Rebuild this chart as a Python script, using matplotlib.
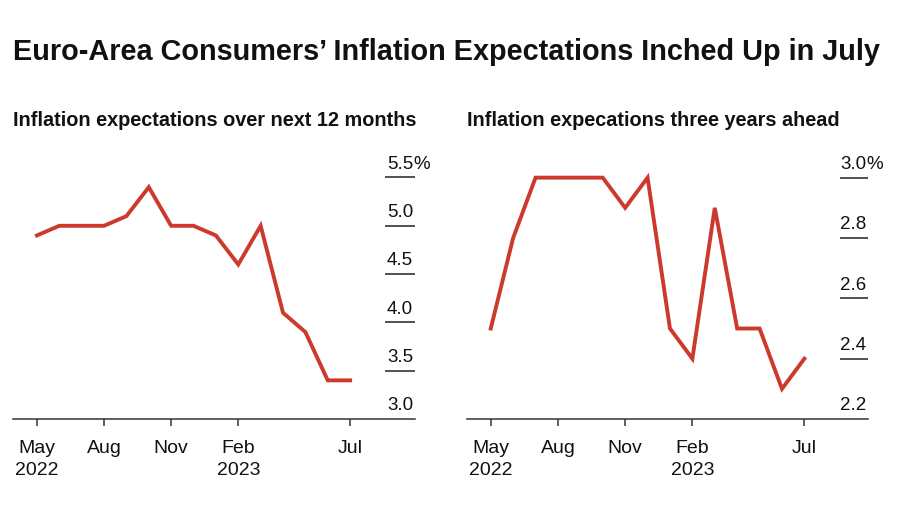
import numpy as np
import pandas as pd
import matplotlib
matplotlib.use("Agg")
import matplotlib.pyplot as plt

plt.rcParams["font.family"] = ["Liberation Sans", "DejaVu Sans"]

# ── data ─────────────────────────────────────────────────────────
months = pd.date_range("2022-05-01", periods=15, freq="MS")
next_12m = [4.9, 5.0, 5.0, 5.0, 5.1, 5.4, 5.0, 5.0, 4.9, 4.6, 5.0, 4.1, 3.9, 3.4, 3.4]
three_yr = [2.5, 2.8, 3.0, 3.0, 3.0, 3.0, 2.9, 3.0, 2.5, 2.4, 2.9, 2.5, 2.5, 2.3, 2.4]

left_yticks  = [3.0, 3.5, 4.0, 4.5, 5.0, 5.5]
right_yticks = [2.2, 2.4, 2.6, 2.8, 3.0]
tick_months  = ["2022-05", "2022-08", "2022-11", "2023-02", "2023-07"]
tick_labels  = ["May\n2022", "Aug", "Nov", "Feb\n2023", "Jul"]

TITLE    = "Euro-Area Consumers\u2019 Inflation Expectations Inched Up in July"
SUB_L    = "Inflation expectations over next 12 months"
SUB_R    = "Inflation expecations three years ahead"

RED  = "#CC3A2D"
INK  = "#111111"

W, H = 900, 510
fig = plt.figure(figsize=(9, 5.1), dpi=100, facecolor="white")

def px(x0, y0, x1, y1):
    # pixel box -> figure fraction [left, bottom, width, height]
    return [x0 / W, 1 - y1 / H, (x1 - x0) / W, (y1 - y0) / H]

x = np.arange(len(months))
tick_pos = [months.get_loc(pd.Timestamp(m)) for m in tick_months]

def panel(rect, vals, yticks, ylim, xlim, tickfrac):
    ax = fig.add_axes(rect)
    ax.plot(x, vals, color=RED, lw=2.8, solid_joinstyle="miter")
    ax.set_xlim(*xlim)
    ax.set_ylim(*ylim)
    for s in ["top", "right", "left"]:
        ax.spines[s].set_visible(False)
    ax.spines["bottom"].set_color("#333333")
    ax.spines["bottom"].set_linewidth(1.1)
    ax.set_yticks([])
    ax.set_xticks(tick_pos)
    ax.set_xticklabels(tick_labels, fontsize=14, color=INK, linespacing=1.4)
    ax.tick_params(axis="x", length=5, width=1.1, color="#333333", pad=9.5)
    ytr = ax.get_yaxis_transform()
    for i, v in enumerate(yticks):
        if i > 0:
            ax.hlines(v, tickfrac, 1.0, transform=ytr, color="#222222", lw=1.1)
        lab = f"{v:.1f}"
        ax.annotate(lab, xy=(0.995, v), xycoords=ytr, xytext=(0, 7),
                    textcoords="offset points", ha="right", va="baseline",
                    fontsize=13.5, color=INK)
        if i == len(yticks) - 1:
            ax.annotate("%", xy=(0.995, v), xycoords=ytr, xytext=(0, 7),
                        textcoords="offset points", ha="left", va="baseline",
                        fontsize=13.5, color=INK)
    return ax

panel(px(13, 150, 415, 420), next_12m, left_yticks, (3.0, 5.795),
      (-1.07, 16.9), 0.925)
panel(px(467, 150, 868, 420), three_yr, right_yticks, (2.2, 3.095),
      (-1.06, 16.84), 0.93)

fig.text(13 / W, 1 - 60 / H, TITLE, fontsize=20.8, fontweight="bold",
         color=INK, ha="left", va="baseline")
fig.text(13 / W, 1 - 126 / H, SUB_L, fontsize=14.3, fontweight="bold",
         color=INK, ha="left", va="baseline")
fig.text(467 / W, 1 - 126 / H, SUB_R, fontsize=14.3, fontweight="bold",
         color=INK, ha="left", va="baseline")

fig.savefig("out.png", dpi=100, facecolor="white")
